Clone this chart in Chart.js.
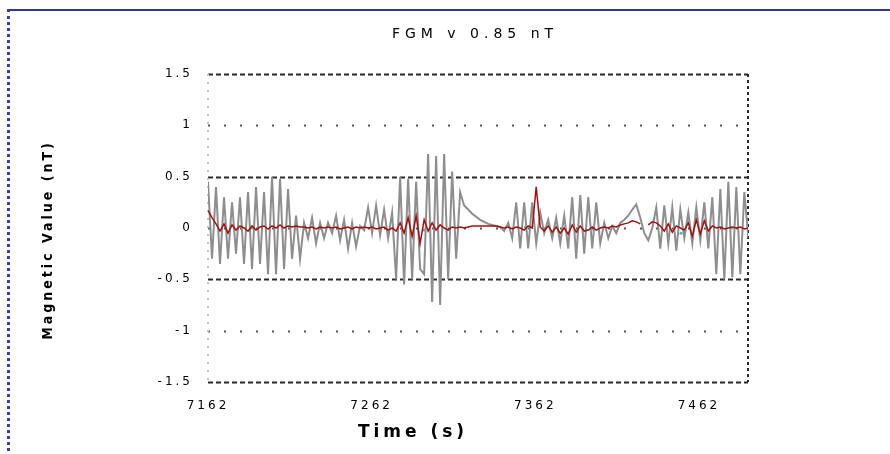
<!DOCTYPE html>
<html>
<head>
<meta charset="utf-8">
<script src="https://cdn.jsdelivr.net/npm/chart.js@4.4.1/dist/chart.umd.min.js"></script>
<style>
  html, body { margin: 0; padding: 0; background: #fff; }
  #wrap { position: relative; width: 890px; height: 454px; overflow: hidden; }
  #frame { position: absolute; left: 7px; top: 9px; right: -4px; bottom: -4px;
           border-top: 2px solid #34349c; border-left: 3px dotted #3d3db0; }
  #chart { position: absolute; left: 0; top: 0; }
</style>
</head>
<body>
<div id="wrap">
  <div id="frame"></div>
  <canvas id="chart" width="890" height="454"></canvas>
</div>
<script>
const chartTitle = "FGM v 0.85 nT";
const xTitle = "Time (s)";
const yTitle = "Magnetic Value (nT)";

const xTicks = [7162, 7262, 7362, 7462];
const yTicks = [-1.5, -1, -0.5, 0, 0.5, 1, 1.5];
const yTickLabels = ["-1.5", "-1", "-0.5", "0", "0.5", "1", "1.5"];

// samples start at 7162 s, one every ~2.45 s
const startTime = 7162;
const sampleStep = 2.446;

const rawField = [
  0.45,-0.30,0.40,-0.35,0.30,-0.30,0.25,-0.25,0.30,-0.35,
  0.35,-0.40,0.40,-0.35,0.35,-0.45,0.50,-0.45,0.48,-0.40,
  0.38,-0.30,0.12,-0.30,0.05,-0.10,0.10,-0.15,0.05,-0.10,
  0.05,-0.05,0.12,-0.12,0.08,-0.20,0.05,-0.18,0.02,-0.02,
  0.20,-0.05,0.22,-0.07,0.18,-0.10,0.15,-0.50,0.50,-0.55,
  0.48,-0.50,0.45,-0.40,-0.45,0.72,-0.72,0.70,-0.75,0.72,
  -0.50,0.55,-0.30,0.35,0.22,0.18,0.14,0.11,0.08,0.06,
  0.04,0.03,0.02,0.01,-0.03,0.05,-0.10,0.25,-0.20,0.25,
  -0.20,0.25,-0.15,0.15,-0.05,0.08,-0.10,0.10,-0.15,0.12,
  -0.20,0.30,-0.30,0.32,-0.25,0.30,-0.20,0.25,-0.15,0.05,
  -0.10,0.02,-0.05,0.05,0.08,0.12,0.18,0.23,0.10,-0.05,
  -0.12,0.00,0.20,-0.20,0.22,-0.15,0.20,-0.22,0.18,-0.10,
  0.15,-0.15,0.20,-0.12,0.25,-0.20,0.30,-0.45,0.38,-0.50,
  0.45,-0.48,0.40,-0.45,0.35,-0.10
];

const filteredField = [
  0.17,0.10,0.04,-0.03,0.04,-0.05,0.03,-0.02,0.02,0.00,
  -0.03,0.02,-0.02,0.01,0.02,-0.01,0.02,0.00,0.03,0.00,
  0.02,0.01,0.02,0.01,0.01,0.00,0.01,-0.01,0.01,0.00,
  0.01,0.00,0.01,-0.01,0.00,0.01,-0.01,0.01,0.00,0.01,
  0.00,0.01,-0.01,0.00,0.01,-0.02,0.00,-0.03,0.05,-0.05,
  0.10,-0.08,0.12,-0.15,0.08,-0.03,0.05,-0.02,0.03,0.00,
  -0.02,0.01,0.00,0.01,0.00,0.01,0.02,0.02,0.02,0.02,
  0.02,0.02,0.02,0.01,0.00,0.01,-0.01,0.01,0.00,-0.02,
  0.02,0.00,0.40,0.01,-0.03,0.02,-0.04,0.01,-0.05,0.00,
  -0.06,0.03,-0.04,0.02,-0.03,-0.02,0.01,-0.02,0.00,0.01,
  0.00,0.02,0.01,0.03,0.04,0.05,0.07,0.06,0.04,null,
  0.03,0.06,0.05,0.02,-0.03,0.04,-0.04,0.02,0.00,-0.02,
  0.05,-0.08,0.08,-0.06,0.07,-0.03,0.02,0.00,0.01,-0.01,
  0.00,0.01,0.00,0.01,-0.01,0.00
];

const residualTimes = [7189, 7212, 7294, 7356, 7396, 7451, 7482];
const residualValues = [0.00, 0.02, -0.02, 0.01, -0.02, -0.05, 0.00];

const toPoints = (vals) => vals.map((v, i) => ({ x: startTime + i * sampleStep, y: v }));

const gridPlugin = {
  id: 'plotGrid',
  beforeDraw(chart) {
    chart.ctx.letterSpacing = '3px';
  },
  beforeDatasetsDraw(chart) {
    const { ctx, chartArea: a, scales } = chart;
    ctx.save();
    yTicks.forEach((v, i) => {
      const y = Math.round(scales.y.getPixelForValue(v)) + 0.5;
      ctx.beginPath();
      if (i % 2 === 0) {
        ctx.strokeStyle = '#2a2a2a'; ctx.lineWidth = 2; ctx.setLineDash([5, 3]);
      } else {
        ctx.strokeStyle = '#555'; ctx.lineWidth = 2; ctx.setLineDash([2, 14]);
      }
      ctx.moveTo(a.left, y); ctx.lineTo(a.right, y); ctx.stroke();
    });
    ctx.setLineDash([2, 6]); ctx.lineWidth = 2; ctx.strokeStyle = '#c4c4c4';
    ctx.beginPath(); ctx.moveTo(a.left, a.top); ctx.lineTo(a.left, a.bottom); ctx.stroke();
    ctx.setLineDash([3, 3]); ctx.strokeStyle = '#2a2a2a';
    ctx.beginPath(); ctx.moveTo(a.right, a.top); ctx.lineTo(a.right, a.bottom); ctx.stroke();
    ctx.restore();
  },
  afterDraw(chart) {
    const { ctx } = chart;
    ctx.save();
    ctx.fillStyle = '#000';
    ctx.textAlign = 'center';
    ctx.textBaseline = 'middle';
    ctx.letterSpacing = '5px';
    ctx.font = '14px "DejaVu Sans"';
    ctx.fillText(chartTitle, 475, 34);
    ctx.letterSpacing = '4px';
    ctx.font = 'bold 17px "DejaVu Sans"';
    ctx.fillText(xTitle, 413, 433);
    ctx.translate(48, 240);
    ctx.rotate(-Math.PI / 2);
    ctx.letterSpacing = '3px';
    ctx.font = 'bold 14px "DejaVu Sans Condensed", "DejaVu Sans"';
    ctx.fillText(yTitle, 0, 0);
    ctx.restore();
  }
};

new Chart(document.getElementById('chart'), {
  type: 'line',
  data: {
    datasets: [
      { label: 'raw', data: toPoints(rawField), borderColor: '#8e8e8e', borderWidth: 2,
        pointRadius: 0, tension: 0, order: 3 },
      { label: 'filtered', data: toPoints(filteredField), borderColor: '#a31212', borderWidth: 1.5,
        pointRadius: 0, tension: 0, spanGaps: false, order: 1 },
      { label: 'residual', data: residualTimes.map((t, i) => ({ x: t, y: residualValues[i] })),
        showLine: false, pointRadius: 1.5, pointBackgroundColor: '#3fbfc4',
        pointBorderWidth: 0, order: 2 }
    ]
  },
  options: {
    responsive: false,
    animation: false,
    layout: { padding: { left: 0, right: 142, top: 74, bottom: 0 } },
    plugins: { legend: { display: false }, tooltip: { enabled: false } },
    scales: {
      x: {
        type: 'linear', min: 7162, max: 7492,
        afterBuildTicks: (s) => { s.ticks = xTicks.map(v => ({ value: v })); },
        afterFit: (s) => { s.height = 72; },
        grid: { display: false, drawTicks: false },
        border: { display: false },
        ticks: { padding: 17, color: '#000', font: { family: 'DejaVu Sans', size: 12 },
                 maxRotation: 0, autoSkip: false, callback: (v) => String(v) }
      },
      y: {
        min: -1.5, max: 1.5,
        afterBuildTicks: (s) => { s.ticks = yTicks.map(v => ({ value: v })); },
        afterFit: (s) => { s.width = 208; },
        grid: { display: false, drawTicks: false },
        border: { display: false },
        ticks: { padding: 15, color: '#000', font: { family: 'DejaVu Sans', size: 12 },
                 callback: (v) => yTickLabels[yTicks.indexOf(v)] }
      }
    }
  },
  plugins: [gridPlugin]
});
</script>
</body>
</html>
